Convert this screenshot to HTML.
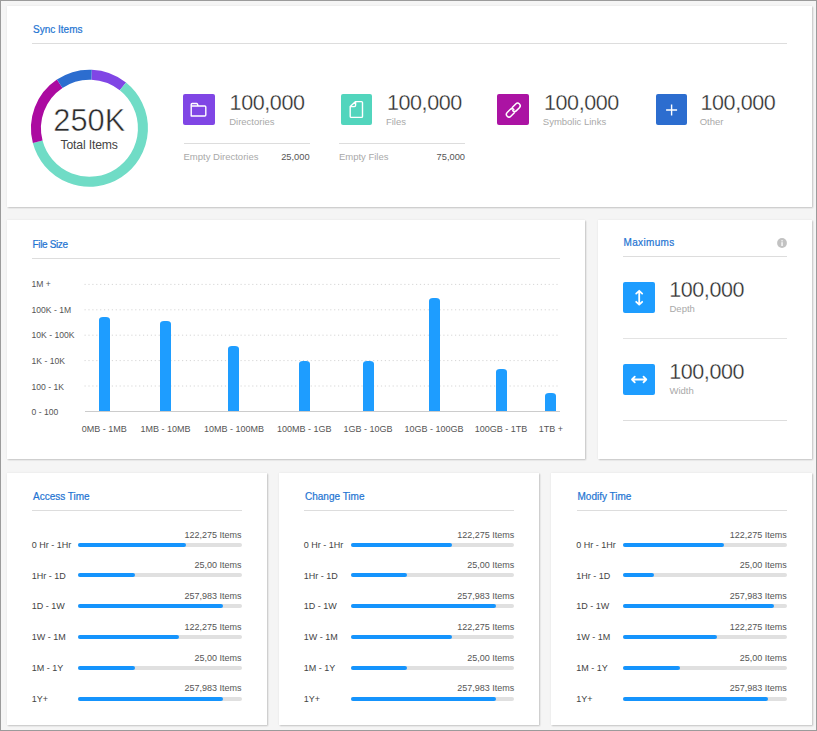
<!DOCTYPE html>
<html><head><meta charset="utf-8">
<style>
html,body{margin:0;padding:0}
body{width:817px;height:731px;position:relative;overflow:hidden;background:#f5f5f5;font-family:"Liberation Sans",sans-serif}
.frame{position:absolute;left:0;top:0;width:815px;height:729px;border:1px solid #9b9b9b;pointer-events:none;z-index:50}
.card{position:absolute;background:#fff;box-shadow:0 0 2px rgba(0,0,0,0.07),1px 1px 1.5px rgba(0,0,0,0.18)}
.big{-webkit-text-stroke:0.35px #fff}
.t{position:absolute;line-height:1;white-space:nowrap}
.r{position:absolute}
svg{position:absolute;overflow:visible}
</style></head><body>
<div class="frame"></div>

<div class="card" style="left:7px;top:6px;width:805px;height:201px"></div>
<div class="card" style="left:7px;top:220px;width:578px;height:239px"></div>
<div class="card" style="left:598px;top:220px;width:214px;height:239px"></div>
<div class="card" style="left:7px;top:473px;width:260px;height:252px"></div>
<div class="card" style="left:279px;top:473px;width:260px;height:252px"></div>
<div class="card" style="left:551px;top:473px;width:261px;height:252px"></div>
<div class="r" style="left:32.00px;top:43.00px;width:755.00px;height:1.00px;background:#dddddd;"></div>
<svg style="left:0;top:0" width="817" height="731">
<path d="M91.60 74.74 A53.5 53.5 0 0 1 122.90 86.45" stroke="#8046e5" stroke-width="10" fill="none"/>
<path d="M122.90 86.45 A53.5 53.5 0 1 1 37.70 141.78" stroke="#70dcc6" stroke-width="10" fill="none"/>
<path d="M37.70 141.78 A53.5 53.5 0 0 1 59.69 83.74" stroke="#ab0aa0" stroke-width="10" fill="none"/>
<path d="M59.69 83.74 A53.5 53.5 0 0 1 91.60 74.74" stroke="#2c6dcf" stroke-width="10" fill="none"/>
</svg>
<div class="r" style="left:183.20px;top:93.90px;width:31.60px;height:31.60px;background:#8046e5;border-radius:2px"></div>
<svg style="left:183.20px;top:93.8px" width="32" height="32" viewBox="0 0 32 32"><path d="M8.2 22 V10.5 Q8.2 9.5 9.2 9.5 H13.6 Q14.2 9.5 14.5 10.2 L15.2 12 H21.8 Q22.8 12 22.8 13 V21 Q22.8 22 21.8 22 H9.2 Q8.2 22 8.2 21 Z M8.2 12 H15.2" stroke="#fff" stroke-width="1.4" fill="none" stroke-linejoin="round"/></svg>
<div class="r" style="left:184.00px;top:143.00px;width:125.50px;height:1.00px;background:#dddddd;"></div>
<div class="r" style="left:340.50px;top:93.60px;width:31.60px;height:31.60px;background:#52d5bd;border-radius:2px"></div>
<svg style="left:340.50px;top:93.8px" width="32" height="32" viewBox="0 0 32 32"><path d="M14.6 7.6 H20.5 Q21.5 7.6 21.5 8.6 V22.4 Q21.5 23.4 20.5 23.4 H10.2 Q9.2 23.4 9.2 22.4 V12.6 Z M14.6 7.6 V11.3 Q14.6 12.6 13.3 12.6 H9.2" stroke="#fff" stroke-width="1.4" fill="none" stroke-linejoin="round"/></svg>
<div class="r" style="left:339.40px;top:143.00px;width:125.50px;height:1.00px;background:#dddddd;"></div>
<div class="r" style="left:497.00px;top:93.60px;width:31.60px;height:31.60px;background:#ab13a3;border-radius:2px"></div>
<svg style="left:497.00px;top:93.8px" width="32" height="32" viewBox="0 0 32 32"><g transform="translate(16.3 16.1) rotate(-45) scale(0.93)" stroke="#fff" stroke-width="1.6" fill="none" stroke-linecap="round"><path d="M1.2 -2.8 H6.5 A2.8 2.8 0 0 1 6.5 2.8 H2 A2.8 2.8 0 0 1 -0.8 0"/><path d="M-1.2 2.8 H-6.5 A2.8 2.8 0 0 1 -6.5 -2.8 H-2 A2.8 2.8 0 0 1 0.8 0"/></g></svg>
<div class="r" style="left:655.80px;top:93.60px;width:31.60px;height:31.60px;background:#2c6dcf;border-radius:2px"></div>
<svg style="left:655.80px;top:93.8px" width="32" height="32" viewBox="0 0 32 32"><path d="M15.6 10.5 V21.5 M10.1 16 H21.1" stroke="#fff" stroke-width="1.4" fill="none"/></svg>
<div class="r" style="left:32.00px;top:258.00px;width:528.00px;height:1.00px;background:#dddddd;"></div>
<svg style="left:0;top:0" width="817" height="731">
<line x1="84.5" y1="284.40" x2="559" y2="284.40" stroke="#d6d6d6" stroke-width="1" stroke-dasharray="1.2 2.7"/>
<line x1="84.5" y1="309.80" x2="559" y2="309.80" stroke="#d6d6d6" stroke-width="1" stroke-dasharray="1.2 2.7"/>
<line x1="84.5" y1="335.20" x2="559" y2="335.20" stroke="#d6d6d6" stroke-width="1" stroke-dasharray="1.2 2.7"/>
<line x1="84.5" y1="360.60" x2="559" y2="360.60" stroke="#d6d6d6" stroke-width="1" stroke-dasharray="1.2 2.7"/>
<line x1="84.5" y1="386.00" x2="559" y2="386.00" stroke="#d6d6d6" stroke-width="1" stroke-dasharray="1.2 2.7"/>
</svg>
<div class="r" style="left:84.50px;top:411.00px;width:475.00px;height:1.00px;background:#cccccc;"></div>
<div class="r" style="left:99.00px;top:317.40px;width:11.20px;height:93.60px;background:#1e9dff;border-radius:4px 4px 0 0/3px 3px 0 0"></div>
<div class="r" style="left:160.10px;top:320.90px;width:11.20px;height:90.10px;background:#1e9dff;border-radius:4px 4px 0 0/3px 3px 0 0"></div>
<div class="r" style="left:228.20px;top:346.40px;width:11.20px;height:64.60px;background:#1e9dff;border-radius:4px 4px 0 0/3px 3px 0 0"></div>
<div class="r" style="left:298.70px;top:360.50px;width:11.20px;height:50.50px;background:#1e9dff;border-radius:4px 4px 0 0/3px 3px 0 0"></div>
<div class="r" style="left:363.20px;top:360.50px;width:11.20px;height:50.50px;background:#1e9dff;border-radius:4px 4px 0 0/3px 3px 0 0"></div>
<div class="r" style="left:428.50px;top:297.80px;width:11.20px;height:113.20px;background:#1e9dff;border-radius:4px 4px 0 0/3px 3px 0 0"></div>
<div class="r" style="left:496.00px;top:369.20px;width:11.20px;height:41.80px;background:#1e9dff;border-radius:4px 4px 0 0/3px 3px 0 0"></div>
<div class="r" style="left:545.30px;top:392.70px;width:11.20px;height:18.30px;background:#1e9dff;border-radius:4px 4px 0 0/3px 3px 0 0"></div>
<svg style="left:776.7px;top:238.1px" width="10" height="10" viewBox="0 0 10 10"><circle cx="5" cy="5" r="4.9" fill="#c2c2c2"/><rect x="4.4" y="4.2" width="1.3" height="3.8" fill="#fff"/><rect x="4.4" y="2.2" width="1.3" height="1.2" fill="#fff"/></svg>
<div class="r" style="left:623.00px;top:256.00px;width:164.00px;height:1.00px;background:#dddddd;"></div>
<div class="r" style="left:623.00px;top:281.50px;width:31.50px;height:31.50px;background:#1e9dff;border-radius:2px"></div>
<svg style="left:623px;top:281.5px" width="32" height="32" viewBox="0 0 32 32"><path d="M16.2 9.2 V22.4 M13.2 11.6 L16.2 8.8 L19.2 11.6 M13.2 19.8 L16.2 22.6 L19.2 19.8" stroke="#fff" stroke-width="1.8" fill="none" stroke-linejoin="round" stroke-linecap="round"/></svg>
<div class="r" style="left:623.00px;top:363.50px;width:31.50px;height:31.50px;background:#1e9dff;border-radius:2px"></div>
<svg style="left:623px;top:363.5px" width="32" height="32" viewBox="0 0 32 32"><path d="M9 15.5 H23.3 M11.8 12.6 L9 15.5 L11.8 18.4 M20.5 12.6 L23.3 15.5 L20.5 18.4" stroke="#fff" stroke-width="1.8" fill="none" stroke-linejoin="round" stroke-linecap="round"/></svg>
<div class="r" style="left:623.00px;top:338.00px;width:164.00px;height:1.00px;background:#e3e3e3;"></div>
<div class="r" style="left:623.00px;top:420.00px;width:164.00px;height:1.00px;background:#dddddd;"></div>
<div class="r" style="left:32.00px;top:510.00px;width:210.00px;height:1.00px;background:#dddddd;"></div>
<div class="r" style="left:78.10px;top:542.60px;width:163.50px;height:4.00px;background:#e0e0e0;border-radius:2px"></div>
<div class="r" style="left:78.10px;top:542.60px;width:107.70px;height:4.00px;background:#1594fd;border-radius:2px"></div>
<div class="r" style="left:78.10px;top:573.38px;width:163.50px;height:4.00px;background:#e0e0e0;border-radius:2px"></div>
<div class="r" style="left:78.10px;top:573.38px;width:57.30px;height:4.00px;background:#1594fd;border-radius:2px"></div>
<div class="r" style="left:78.10px;top:604.16px;width:163.50px;height:4.00px;background:#e0e0e0;border-radius:2px"></div>
<div class="r" style="left:78.10px;top:604.16px;width:145.40px;height:4.00px;background:#1594fd;border-radius:2px"></div>
<div class="r" style="left:78.10px;top:634.94px;width:163.50px;height:4.00px;background:#e0e0e0;border-radius:2px"></div>
<div class="r" style="left:78.10px;top:634.94px;width:101.30px;height:4.00px;background:#1594fd;border-radius:2px"></div>
<div class="r" style="left:78.10px;top:665.72px;width:163.50px;height:4.00px;background:#e0e0e0;border-radius:2px"></div>
<div class="r" style="left:78.10px;top:665.72px;width:57.30px;height:4.00px;background:#1594fd;border-radius:2px"></div>
<div class="r" style="left:78.10px;top:696.50px;width:163.50px;height:4.00px;background:#e0e0e0;border-radius:2px"></div>
<div class="r" style="left:78.10px;top:696.50px;width:145.40px;height:4.00px;background:#1594fd;border-radius:2px"></div>
<div class="r" style="left:304.00px;top:510.00px;width:210.00px;height:1.00px;background:#dddddd;"></div>
<div class="r" style="left:350.70px;top:542.60px;width:163.50px;height:4.00px;background:#e0e0e0;border-radius:2px"></div>
<div class="r" style="left:350.70px;top:542.60px;width:101.20px;height:4.00px;background:#1594fd;border-radius:2px"></div>
<div class="r" style="left:350.70px;top:573.38px;width:163.50px;height:4.00px;background:#e0e0e0;border-radius:2px"></div>
<div class="r" style="left:350.70px;top:573.38px;width:56.60px;height:4.00px;background:#1594fd;border-radius:2px"></div>
<div class="r" style="left:350.70px;top:604.16px;width:163.50px;height:4.00px;background:#e0e0e0;border-radius:2px"></div>
<div class="r" style="left:350.70px;top:604.16px;width:145.10px;height:4.00px;background:#1594fd;border-radius:2px"></div>
<div class="r" style="left:350.70px;top:634.94px;width:163.50px;height:4.00px;background:#e0e0e0;border-radius:2px"></div>
<div class="r" style="left:350.70px;top:634.94px;width:101.20px;height:4.00px;background:#1594fd;border-radius:2px"></div>
<div class="r" style="left:350.70px;top:665.72px;width:163.50px;height:4.00px;background:#e0e0e0;border-radius:2px"></div>
<div class="r" style="left:350.70px;top:665.72px;width:56.60px;height:4.00px;background:#1594fd;border-radius:2px"></div>
<div class="r" style="left:350.70px;top:696.50px;width:163.50px;height:4.00px;background:#e0e0e0;border-radius:2px"></div>
<div class="r" style="left:350.70px;top:696.50px;width:145.10px;height:4.00px;background:#1594fd;border-radius:2px"></div>
<div class="r" style="left:576.50px;top:510.00px;width:210.00px;height:1.00px;background:#dddddd;"></div>
<div class="r" style="left:623.30px;top:542.60px;width:163.50px;height:4.00px;background:#e0e0e0;border-radius:2px"></div>
<div class="r" style="left:623.30px;top:542.60px;width:100.60px;height:4.00px;background:#1594fd;border-radius:2px"></div>
<div class="r" style="left:623.30px;top:573.38px;width:163.50px;height:4.00px;background:#e0e0e0;border-radius:2px"></div>
<div class="r" style="left:623.30px;top:573.38px;width:31.20px;height:4.00px;background:#1594fd;border-radius:2px"></div>
<div class="r" style="left:623.30px;top:604.16px;width:163.50px;height:4.00px;background:#e0e0e0;border-radius:2px"></div>
<div class="r" style="left:623.30px;top:604.16px;width:150.90px;height:4.00px;background:#1594fd;border-radius:2px"></div>
<div class="r" style="left:623.30px;top:634.94px;width:163.50px;height:4.00px;background:#e0e0e0;border-radius:2px"></div>
<div class="r" style="left:623.30px;top:634.94px;width:94.20px;height:4.00px;background:#1594fd;border-radius:2px"></div>
<div class="r" style="left:623.30px;top:665.72px;width:163.50px;height:4.00px;background:#e0e0e0;border-radius:2px"></div>
<div class="r" style="left:623.30px;top:665.72px;width:56.60px;height:4.00px;background:#1594fd;border-radius:2px"></div>
<div class="r" style="left:623.30px;top:696.50px;width:163.50px;height:4.00px;background:#e0e0e0;border-radius:2px"></div>
<div class="r" style="left:623.30px;top:696.50px;width:145.10px;height:4.00px;background:#1594fd;border-radius:2px"></div>
<svg style="left:0;top:0;z-index:10" width="817" height="731" font-family="Liberation Sans, sans-serif"><text x="33.00" y="32.70" font-size="10" fill="#2374d2" text-anchor="start" stroke="#2374d2" stroke-width="0.2px">Sync Items</text><text x="89.30" y="130.80" font-size="30.8" fill="#2b2b2b" text-anchor="middle" stroke="#fff" stroke-width="0.5px">250K</text><text x="89.10" y="148.60" font-size="12.2" fill="#444444" text-anchor="middle" letter-spacing="-0.15px">Total Items</text><text x="229.60" y="109.50" font-size="21.5" fill="#2b2b2b" text-anchor="start" stroke="#fff" stroke-width="0.3px" letter-spacing="-0.4px">100,000</text><text x="229.20" y="124.50" font-size="9.5" fill="#a9a9a9" text-anchor="start">Directories</text><text x="183.50" y="160.40" font-size="9.5" fill="#a9a9a9" text-anchor="start">Empty Directories</text><text x="309.60" y="160.40" font-size="9.3" fill="#555555" text-anchor="end">25,000</text><text x="386.90" y="109.50" font-size="21.5" fill="#2b2b2b" text-anchor="start" stroke="#fff" stroke-width="0.3px" letter-spacing="-0.4px">100,000</text><text x="385.90" y="124.50" font-size="9.5" fill="#a9a9a9" text-anchor="start">Files</text><text x="338.90" y="160.40" font-size="9.5" fill="#a9a9a9" text-anchor="start">Empty Files</text><text x="465.00" y="160.40" font-size="9.3" fill="#555555" text-anchor="end">75,000</text><text x="544.00" y="109.50" font-size="21.5" fill="#2b2b2b" text-anchor="start" stroke="#fff" stroke-width="0.3px" letter-spacing="-0.4px">100,000</text><text x="542.80" y="124.50" font-size="9.5" fill="#a9a9a9" text-anchor="start">Symbolic Links</text><text x="700.50" y="109.50" font-size="21.5" fill="#2b2b2b" text-anchor="start" stroke="#fff" stroke-width="0.3px" letter-spacing="-0.4px">100,000</text><text x="699.70" y="124.50" font-size="9.5" fill="#a9a9a9" text-anchor="start">Other</text><text x="32.50" y="247.50" font-size="10" fill="#2374d2" text-anchor="start" letter-spacing="-0.35px" stroke="#2374d2" stroke-width="0.2px">File Size</text><text x="31.50" y="286.70" font-size="8.6" fill="#555555" text-anchor="start">1M +</text><text x="31.50" y="312.60" font-size="8.6" fill="#555555" text-anchor="start">100K - 1M</text><text x="31.50" y="338.40" font-size="8.6" fill="#555555" text-anchor="start">10K - 100K</text><text x="31.50" y="364.10" font-size="8.6" fill="#555555" text-anchor="start">1K - 10K</text><text x="31.50" y="389.80" font-size="8.6" fill="#555555" text-anchor="start">100 - 1K</text><text x="31.50" y="415.40" font-size="8.6" fill="#555555" text-anchor="start">0 - 100</text><text x="104.20" y="432.00" font-size="9" fill="#555555" text-anchor="middle">0MB - 1MB</text><text x="165.60" y="432.00" font-size="9" fill="#555555" text-anchor="middle">1MB - 10MB</text><text x="233.90" y="432.00" font-size="9" fill="#555555" text-anchor="middle">10MB - 100MB</text><text x="304.20" y="432.00" font-size="9" fill="#555555" text-anchor="middle">100MB - 1GB</text><text x="368.10" y="432.00" font-size="9" fill="#555555" text-anchor="middle">1GB - 10GB</text><text x="434.00" y="432.00" font-size="9" fill="#555555" text-anchor="middle">10GB - 100GB</text><text x="501.10" y="432.00" font-size="9" fill="#555555" text-anchor="middle">100GB - 1TB</text><text x="550.90" y="432.00" font-size="9" fill="#555555" text-anchor="middle">1TB +</text><text x="623.50" y="246.40" font-size="10" fill="#2374d2" text-anchor="start" letter-spacing="0.35px" stroke="#2374d2" stroke-width="0.2px">Maximums</text><text x="669.20" y="296.80" font-size="21.5" fill="#2b2b2b" text-anchor="start" stroke="#fff" stroke-width="0.3px" letter-spacing="-0.4px">100,000</text><text x="669.50" y="311.70" font-size="9.5" fill="#a9a9a9" text-anchor="start">Depth</text><text x="669.20" y="378.80" font-size="21.5" fill="#2b2b2b" text-anchor="start" stroke="#fff" stroke-width="0.3px" letter-spacing="-0.4px">100,000</text><text x="669.50" y="393.70" font-size="9.5" fill="#a9a9a9" text-anchor="start">Width</text><text x="33.00" y="500.20" font-size="10" fill="#2374d2" text-anchor="start" stroke="#2374d2" stroke-width="0.2px">Access Time</text><text x="31.70" y="547.90" font-size="9" fill="#444444" text-anchor="start">0 Hr - 1Hr</text><text x="241.60" y="537.50" font-size="9" fill="#555555" text-anchor="end">122,275 Items</text><text x="31.70" y="578.68" font-size="9" fill="#444444" text-anchor="start">1Hr - 1D</text><text x="241.60" y="568.28" font-size="9" fill="#555555" text-anchor="end">25,00 Items</text><text x="31.70" y="609.46" font-size="9" fill="#444444" text-anchor="start">1D - 1W</text><text x="241.60" y="599.06" font-size="9" fill="#555555" text-anchor="end">257,983 Items</text><text x="31.70" y="640.24" font-size="9" fill="#444444" text-anchor="start">1W - 1M</text><text x="241.60" y="629.84" font-size="9" fill="#555555" text-anchor="end">122,275 Items</text><text x="31.70" y="671.02" font-size="9" fill="#444444" text-anchor="start">1M - 1Y</text><text x="241.60" y="660.62" font-size="9" fill="#555555" text-anchor="end">25,00 Items</text><text x="31.70" y="701.80" font-size="9" fill="#444444" text-anchor="start">1Y+</text><text x="241.60" y="691.40" font-size="9" fill="#555555" text-anchor="end">257,983 Items</text><text x="305.00" y="500.20" font-size="10" fill="#2374d2" text-anchor="start" stroke="#2374d2" stroke-width="0.2px">Change Time</text><text x="303.70" y="547.90" font-size="9" fill="#444444" text-anchor="start">0 Hr - 1Hr</text><text x="514.20" y="537.50" font-size="9" fill="#555555" text-anchor="end">122,275 Items</text><text x="303.70" y="578.68" font-size="9" fill="#444444" text-anchor="start">1Hr - 1D</text><text x="514.20" y="568.28" font-size="9" fill="#555555" text-anchor="end">25,00 Items</text><text x="303.70" y="609.46" font-size="9" fill="#444444" text-anchor="start">1D - 1W</text><text x="514.20" y="599.06" font-size="9" fill="#555555" text-anchor="end">257,983 Items</text><text x="303.70" y="640.24" font-size="9" fill="#444444" text-anchor="start">1W - 1M</text><text x="514.20" y="629.84" font-size="9" fill="#555555" text-anchor="end">122,275 Items</text><text x="303.70" y="671.02" font-size="9" fill="#444444" text-anchor="start">1M - 1Y</text><text x="514.20" y="660.62" font-size="9" fill="#555555" text-anchor="end">25,00 Items</text><text x="303.70" y="701.80" font-size="9" fill="#444444" text-anchor="start">1Y+</text><text x="514.20" y="691.40" font-size="9" fill="#555555" text-anchor="end">257,983 Items</text><text x="577.50" y="500.20" font-size="10" fill="#2374d2" text-anchor="start" stroke="#2374d2" stroke-width="0.2px">Modify Time</text><text x="576.20" y="547.90" font-size="9" fill="#444444" text-anchor="start">0 Hr - 1Hr</text><text x="786.80" y="537.50" font-size="9" fill="#555555" text-anchor="end">122,275 Items</text><text x="576.20" y="578.68" font-size="9" fill="#444444" text-anchor="start">1Hr - 1D</text><text x="786.80" y="568.28" font-size="9" fill="#555555" text-anchor="end">25,00 Items</text><text x="576.20" y="609.46" font-size="9" fill="#444444" text-anchor="start">1D - 1W</text><text x="786.80" y="599.06" font-size="9" fill="#555555" text-anchor="end">257,983 Items</text><text x="576.20" y="640.24" font-size="9" fill="#444444" text-anchor="start">1W - 1M</text><text x="786.80" y="629.84" font-size="9" fill="#555555" text-anchor="end">122,275 Items</text><text x="576.20" y="671.02" font-size="9" fill="#444444" text-anchor="start">1M - 1Y</text><text x="786.80" y="660.62" font-size="9" fill="#555555" text-anchor="end">25,00 Items</text><text x="576.20" y="701.80" font-size="9" fill="#444444" text-anchor="start">1Y+</text><text x="786.80" y="691.40" font-size="9" fill="#555555" text-anchor="end">257,983 Items</text></svg>
</body></html>
